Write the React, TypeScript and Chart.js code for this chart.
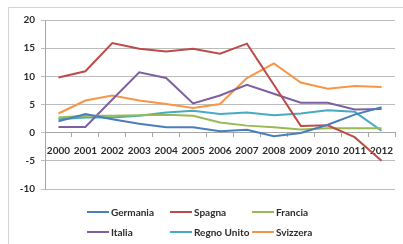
import React, { useEffect, useRef } from "react";
import { Chart, registerables } from "chart.js";

Chart.register(...registerables);

const years = ["2000","2001","2002","2003","2004","2005","2006","2007","2008","2009","2010","2011","2012"];
const germania = [2.0, 3.3, 2.4, 1.6, 0.95, 0.95, 0.25, 0.5, -0.65, -0.05, 1.4, 3.2, 4.5];
const spagna = [9.8, 10.9, 15.9, 14.9, 14.4, 14.9, 14.0, 15.8, 8.5, 1.2, 1.3, -0.8, -5.0];
const francia = [2.7, 3.0, 3.0, 3.1, 3.2, 3.0, 1.8, 1.25, 0.95, 0.55, 0.8, 0.8, 0.8];
const italia = [1.0, 1.0, 5.9, 10.7, 9.7, 5.2, 6.6, 8.5, 6.9, 5.3, 5.3, 4.1, 4.2];
const regnoUnito = [2.4, 2.7, 2.7, 3.0, 3.6, 3.9, 3.3, 3.6, 3.1, 3.4, 4.0, 3.7, 0.35];
const svizzera = [3.4, 5.7, 6.6, 5.7, 5.1, 4.4, 5.1, 9.7, 12.3, 8.9, 7.8, 8.3, 8.1];
const yTicks = [-10, -5, 0, 5, 10, 15, 20];

const seriesNames = ["Germania", "Spagna", "Francia", "Italia", "Regno Unito", "Svizzera"];
const seriesValues = [germania, spagna, francia, italia, regnoUnito, svizzera];
const seriesColors = ["#4A7EBB", "#BE4B48", "#98B954", "#7D60A0", "#46AAC5", "#F79646"];

const FONT = "Lato, 'Open Sans', sans-serif";

const framePlugin = {
  id: "frame",
  beforeDraw(chart: any) {
    const ctx = chart.ctx;
    ctx.save();
    ctx.strokeStyle = "#d4d4d4";
    ctx.lineWidth = 1;
    ctx.beginPath();
    ctx.moveTo(8.5, chart.height);
    ctx.lineTo(8.5, 7.5);
    ctx.lineTo(chart.width, 7.5);
    ctx.stroke();
    ctx.restore();
  },
};

const legendPlugin = {
  id: "gridLegend",
  afterDraw(chart: any) {
    const ctx = chart.ctx;
    const cols = [87, 170, 252];
    const rows = [212, 232];
    ctx.save();
    ctx.font = `bold 10px ${FONT}`;
    ctx.textBaseline = "middle";
    ctx.textAlign = "left";
    chart.data.datasets.forEach((ds: any, i: number) => {
      const x = cols[i % 3];
      const y = rows[Math.floor(i / 3)];
      ctx.strokeStyle = ds.borderColor;
      ctx.lineWidth = 2;
      ctx.beginPath();
      ctx.moveTo(x, y);
      ctx.lineTo(x + 22, y);
      ctx.stroke();
      ctx.fillStyle = "#2b2b2b";
      ctx.fillText(ds.label, x + 24, y + 0.5);
    });
    ctx.restore();
  },
};

export default function App() {
  const ref = useRef<HTMLCanvasElement | null>(null);

  useEffect(() => {
    document.body.style.margin = "0";
    const canvas = ref.current;
    if (!canvas) return;
    const chart = new Chart(canvas, {
      type: "line",
      data: {
        labels: years,
        datasets: seriesNames.map((name, i) => ({
          label: name,
          data: seriesValues[i],
          borderColor: seriesColors[i],
          backgroundColor: seriesColors[i],
          borderWidth: 2,
          pointRadius: 0,
          tension: 0,
          fill: false,
        })),
      },
      options: {
        animation: false,
        responsive: false,
        maintainAspectRatio: false,
        layout: { padding: { left: 0, right: 8, top: 20, bottom: 55 } },
        plugins: { legend: { display: false }, tooltip: { enabled: false } },
        scales: {
          x: {
            type: "category",
            position: { y: 0 } as any,
            offset: true,
            grid: {
              offset: true,
              drawOnChartArea: false,
              drawTicks: true,
              tickLength: 4,
              color: "#a6a6a6",
            },
            border: { display: true, color: "#a6a6a6" },
            ticks: {
              color: "#2b2b2b",
              font: { family: FONT, size: 10, weight: "bold" },
              padding: 8,
              maxRotation: 0,
              autoSkip: false,
            },
          },
          y: {
            min: -10,
            max: 20,
            afterBuildTicks(scale: any) {
              scale.ticks = yTicks.map((v) => ({ value: v }));
            },
            afterFit(scale: any) {
              scale.width = 45;
            },
            grid: { color: "#bcbcbc", tickLength: 4, drawTicks: true },
            border: { display: true, color: "#a6a6a6" },
            ticks: {
              color: "#2b2b2b",
              font: { family: FONT, size: 10, weight: "bold" },
              padding: 6,
            },
          },
        },
      },
      plugins: [framePlugin, legendPlugin],
    });
    return () => chart.destroy();
  }, []);

  return (
    <div style={{ width: 403, height: 244, position: "relative", background: "#fff" }}>
      <canvas ref={ref} width={403} height={244} style={{ display: "block", width: 403, height: 244 }} />
    </div>
  );
}
